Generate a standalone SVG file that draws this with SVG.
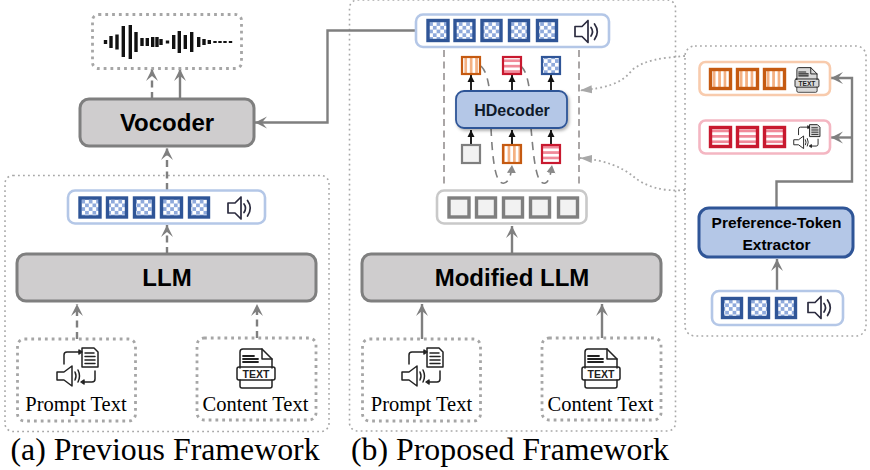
<svg xmlns="http://www.w3.org/2000/svg" xmlns:xlink="http://www.w3.org/1999/xlink" width="870" height="470" viewBox="0 0 870 470">
<style>
text{font-family:"Liberation Sans",Arial,sans-serif;text-anchor:middle;fill:#000}
.serif{font-family:"Liberation Serif","Times New Roman",serif;font-size:20.500px}
.cap{font-family:"Liberation Serif","Times New Roman",serif;font-size:31.800px}
.panel{fill:none;stroke:#a8a8a8;stroke-width:1.6;stroke-dasharray:1.8 3.2}
.dot{fill:#fff;stroke:#a6a6a6;stroke-width:2.8;stroke-dasharray:2.8 4}
.gray{fill:#cfcdce;stroke:#7f7f7f;stroke-width:3}
.blue{fill:#b4c7e7;stroke:#2f5597;stroke-width:3}
.bar{fill:#fff;stroke-width:2.6}
.tb{fill:url(#chk);stroke:#2f5597;stroke-width:3.4}
.to{fill:url(#vst);stroke:#c55a11;stroke-width:3.4}
.tr{fill:url(#hst);stroke:#c8192f;stroke-width:3.4}
.tg{fill:#f2f2f2;stroke:#7f7f7f;stroke-width:3.4}
.sm{stroke-width:2.2}
.s{fill:none;stroke:#7f7f7f;stroke-width:2.4}
.sa{marker-end:url(#ah)}
.d{stroke-dasharray:7 4.5}
.k{fill:none;stroke:#222;stroke-width:2;marker-end:url(#ak)}
.cv{fill:none;stroke:#7f7f7f;stroke-width:1.6;stroke-dasharray:8 6;marker-end:url(#am)}
.dt{fill:none;stroke:#a8a8a8;stroke-width:1.8;stroke-dasharray:1.8 3;marker-end:url(#ad)}
.ic{fill:none;stroke:#2b2b3f;stroke-width:1.7;stroke-linejoin:round;stroke-linecap:round}
.ibk{fill:none;stroke:#222;stroke-width:1.5;stroke-linejoin:round;stroke-linecap:round}
.wave line{stroke:#111;stroke-width:3.4}
</style>
<defs>
<pattern id="chk" width="7.4" height="7.4" patternUnits="userSpaceOnUse"><rect width="7.4" height="7.4" fill="#fff"/><rect width="3.7" height="3.7" fill="#8faadc"/><rect x="3.7" y="3.7" width="3.7" height="3.7" fill="#8faadc"/></pattern>
<pattern id="vst" width="5.4" height="5.4" patternUnits="userSpaceOnUse"><rect width="5.4" height="5.4" fill="#fff"/><rect width="2.7" height="5.4" fill="#f4b183"/></pattern>
<pattern id="hst" width="5.4" height="5.4" patternUnits="userSpaceOnUse"><rect width="5.4" height="5.4" fill="#fff"/><rect width="5.4" height="2.7" fill="#f08a9a"/></pattern>
<filter id="sh" x="-10%" y="-10%" width="125%" height="130%"><feDropShadow dx="1.5" dy="2" stdDeviation="1.5" flood-color="#000" flood-opacity=".3"/></filter>
<marker id="ah" markerUnits="userSpaceOnUse" markerWidth="13" markerHeight="14" refX="12" refY="7" orient="auto"><path d="M12 7L0 1L5 7L0 13Z" fill="#7f7f7f"/></marker>
<marker id="ak" markerUnits="userSpaceOnUse" markerWidth="8" markerHeight="8" refX="7" refY="4" orient="auto"><path d="M7 4L0 .5V7.500Z" fill="#111"/></marker>
<marker id="am" markerUnits="userSpaceOnUse" markerWidth="9" markerHeight="10" refX="8" refY="5" orient="auto"><path d="M8 5L0 .5V9.500Z" fill="#8a8a8a"/></marker>
<marker id="ad" markerUnits="userSpaceOnUse" markerWidth="13" markerHeight="10" refX="12" refY="5" orient="auto"><path d="M12 5L0 1V9Z" fill="#a8a8a8"/></marker>
<g id="spk" class="ic"><path d="M1 6.500H8L14 .5V22.500L8 16.500H1Z"/><path d="M17 7.500Q20 11.500 17 16"/><path d="M20.500 4Q26 11.500 20.500 19.500"/></g>
<g id="prompt" class="ibk">
<path d="M26 1H38L42 5V20H26Z"/><path d="M29 6H38M29 9.500H39M29 13H39M29 16.500H39"/>
<path d="M8 17V8Q8 5 11 5H23"/><path d="M23 3L26 5L23 7Z" fill="#222"/>
<path d="M1 25H8L16 19V39L8 33H1Z"/><path d="M19 25Q21 29 19 33M22 23Q25 29 22 35"/>
<path d="M39 24V32Q39 35 36 35H28"/><path d="M28 33L25 35L28 37Z" fill="#222"/>
</g>
<g id="content" class="ibk">
<path d="M3 20V4Q3 1 6 1H25L35 11V20"/><path d="M25 1V11H35"/>
<path d="M6 8H17M6 11H21M6 14H21" stroke-width="1.800"/>
<rect x="0" y="19" width="38" height="13" rx="2"/>
<path d="M3 32V38Q3 40 5 40H33Q35 40 35 38V32"/>
<text x="19" y="30" font-size="10.500" font-weight="700" style="fill:#222;stroke:none">TEXT</text>
</g>
</defs>
<rect width="870" height="470" fill="#fff"/>

<g id="panels">
<rect class="panel" x="5" y="175.500" width="324" height="256" rx="8"/>
<rect class="panel" x="349.500" y="0" width="326" height="431" rx="8"/>
<rect class="panel" x="685" y="46" width="181" height="290" rx="10" style="fill:#fff"/>
</g>

<g id="connectors">
<path class="s d sa" d="M152 99V69"/>
<path class="s sa" d="M180 99V69"/>
<path class="s d sa" d="M167 190V148"/>
<path class="s d sa" d="M167 254V225"/>
<path class="s d sa" d="M77 339V304"/>
<path class="s d sa" d="M257 338V304"/>
<path class="s sa" d="M416 30.500H327.500V122.500H255"/>
<path class="s sa" d="M512 254V226"/>
<path class="s sa" d="M422 339V304"/>
<path class="s sa" d="M602 338V304"/>
<path class="s sa" d="M776.500 208V181.500H852V78H831"/>
<path class="s sa" d="M852 137.500H831"/>
<path class="s sa" d="M777 291V259"/>
<path d="M444 50V188M579 50V188" fill="none" stroke="#aaa6a6" stroke-width="2" stroke-dasharray="7 4.500"/>
<path class="dt" d="M685 56C660 58 645 60 632 70C622 84 605 88 580 90.500"/>
<path class="dt" d="M685 190C662 192 645 186 634 177C622 167 605 160 580 158"/>
<path class="k" d="M471 91V75"/><path class="k" d="M512 91V75"/><path class="k" d="M551 91V75"/>
<path class="k" d="M471 145V130"/><path class="k" d="M512 145V130"/><path class="k" d="M551 145V130"/>
<path class="cv" d="M481 66C487 72 488 82 490 92M491 128C492 150 494 176 500 182C506 186 511 180 512 165"/>
<path class="cv" d="M521 66C527 72 528 82 530 92M531 128C533 150 535 176 541 182C547 186 550 180 552 165"/>
</g>

<g id="waveform">
<rect class="dot" x="92.500" y="14.500" width="149" height="54" rx="6"/>
<g class="wave">
<line x1="105.500" y1="40" x2="105.500" y2="44"/><line x1="111" y1="36" x2="111" y2="48"/><line x1="117" y1="34.500" x2="117" y2="49.500"/><line x1="123.300" y1="26" x2="123.300" y2="57"/><line x1="130.300" y1="25" x2="130.300" y2="59"/><line x1="136" y1="32" x2="136" y2="52"/><line x1="142" y1="38" x2="142" y2="46"/><line x1="147.300" y1="38" x2="147.300" y2="46"/><line x1="152.700" y1="37" x2="152.700" y2="47"/><line x1="157" y1="37" x2="157" y2="47"/><line x1="161" y1="39" x2="161" y2="45"/><line x1="167.500" y1="40.500" x2="167.500" y2="43.500"/><line x1="173.700" y1="35" x2="173.700" y2="49"/><line x1="179.300" y1="31" x2="179.300" y2="53"/><line x1="185.300" y1="35" x2="185.300" y2="49"/><line x1="191.700" y1="32" x2="191.700" y2="52"/><line x1="198.700" y1="37" x2="198.700" y2="47"/><line x1="204" y1="39" x2="204" y2="45"/><line x1="209.300" y1="40" x2="209.300" y2="44"/><line x1="215" y1="41" x2="215" y2="43"/><line x1="220" y1="41" x2="220" y2="43"/><line x1="225" y1="41" x2="225" y2="43"/><line x1="230.500" y1="41" x2="230.500" y2="43"/></g>
</g>

<g id="vocoder"><rect class="gray" x="80" y="99" width="174" height="47" rx="9"/><text x="167" y="131" font-size="24" font-weight="700">Vocoder</text></g>

<g id="tokens-a">
<rect class="bar" x="68" y="190.500" width="197" height="33" rx="7" stroke="#b4c7e7"/>
<rect class="tb" x="80" y="198" width="20" height="19"/><rect class="tb" x="107.500" y="198" width="19" height="19"/><rect class="tb" x="134.500" y="198" width="19" height="19"/><rect class="tb" x="161.500" y="198" width="20" height="19"/><rect class="tb" x="189.500" y="198" width="19" height="19"/>
<use href="#spk" x="227" y="196.500"/>
</g>
<g id="llm"><rect class="gray" x="17" y="254" width="299" height="47" rx="9"/><text x="167" y="286" font-size="24" font-weight="700">LLM</text></g>
<g id="prompt-a"><rect class="dot" x="17.500" y="339" width="118" height="82" rx="7"/><use href="#prompt" x="56" y="347"/><text class="serif" x="76" y="411">Prompt Text</text></g>
<g id="content-a"><rect class="dot" x="197" y="338" width="119" height="82" rx="7"/><use href="#content" x="237" y="348"/><text class="serif" x="255.500" y="411">Content Text</text></g>
<text class="cap" x="165" y="460">(a) Previous Framework</text>

<g id="tokens-b">
<rect class="bar" x="416" y="14.500" width="193" height="32.500" rx="7" stroke="#b4c7e7"/>
<rect class="tb" x="428" y="20.500" width="20" height="20"/><rect class="tb" x="455" y="20.500" width="19" height="20"/><rect class="tb" x="482" y="20.500" width="19" height="20"/><rect class="tb" x="509.500" y="20.500" width="19" height="20"/><rect class="tb" x="537.500" y="20.500" width="19" height="20"/>
<use href="#spk" x="574" y="20"/>
</g>
<g id="output-tokens">
<rect class="to sm" x="462" y="57" width="18" height="17"/><rect class="tr sm" x="503" y="57" width="18" height="17"/><rect class="tb sm" x="542" y="57" width="18" height="17"/>
</g>
<g id="hdecoder"><rect x="456" y="91" width="111" height="37" rx="8" fill="#b4c7e7" stroke="#2f5597" stroke-width="1.800" filter="url(#sh)"/><text x="512" y="116" font-size="16" font-weight="700" style="fill:#0e1a2b">HDecoder</text></g>
<g id="input-tokens">
<rect class="tg sm" x="462" y="145" width="18" height="18"/><rect class="to sm" x="503" y="145" width="18" height="18"/><rect class="tr sm" x="542" y="145" width="18" height="18"/>
</g>
<g id="latent">
<rect class="bar" x="437" y="190.500" width="149.500" height="33" rx="7" stroke="#c9c9c9"/>
<rect class="tg" x="449" y="198" width="20" height="19"/><rect class="tg" x="476.500" y="198" width="19" height="19"/><rect class="tg" x="503.500" y="198" width="19" height="19"/><rect class="tg" x="530.500" y="198" width="19" height="19"/><rect class="tg" x="558.500" y="198" width="19" height="19"/>
</g>
<g id="modified-llm"><rect class="gray" x="362" y="254" width="299" height="47" rx="9"/><text x="512" y="286" font-size="24" font-weight="700">Modified LLM</text></g>
<g id="prompt-b"><rect class="dot" x="362.500" y="339" width="118" height="82" rx="7"/><use href="#prompt" x="401" y="347"/><text class="serif" x="421.500" y="411">Prompt Text</text></g>
<g id="content-b"><rect class="dot" x="542" y="338" width="119" height="82" rx="7"/><use href="#content" x="582" y="348"/><text class="serif" x="600.500" y="411">Content Text</text></g>
<text class="cap" x="510" y="460">(b) Proposed Framework</text>

<g id="orange-prefs">
<rect class="bar" x="699.500" y="62" width="130.500" height="33" rx="6" stroke="#f8cbad"/>
<rect class="to" x="710.500" y="69.500" width="20" height="19"/><rect class="to" x="737.500" y="69.500" width="20" height="19"/><rect class="to" x="764.500" y="69.500" width="20" height="19"/>
<path d="M797 78V67H811L817 73V78H819V87H816V91H798V87H795V78Z" fill="#d9d9d9"/>
<use href="#content" transform="translate(795 67) scale(.63)"/>
</g>
<g id="red-prefs">
<rect class="bar" x="699.500" y="120.500" width="130.500" height="33" rx="6" stroke="#f4b6c2"/>
<rect class="tr" x="710.500" y="127.500" width="20" height="19"/><rect class="tr" x="737.500" y="127.500" width="20" height="19"/><rect class="tr" x="764.500" y="127.500" width="20" height="19"/>
<path d="M810 125H818L820 128V137H810Z" fill="#d9d9d9"/>
<use href="#prompt" transform="translate(793.500 124) scale(.63)"/>
</g>
<g id="extractor"><rect class="blue" x="699" y="208" width="154" height="49" rx="10"/><text x="776.500" y="228" font-size="15.500" font-weight="700">Preference-Token</text><text x="776.500" y="250" font-size="15.500" font-weight="700">Extractor</text></g>
<g id="ref-tokens">
<rect class="bar" x="712" y="291" width="131" height="34" rx="7" stroke="#b4c7e7"/>
<rect class="tb" x="722.500" y="298.500" width="19" height="19"/><rect class="tb" x="749.500" y="298.500" width="19" height="19"/><rect class="tb" x="776.500" y="298.500" width="19" height="19"/>
<use href="#spk" x="807" y="296"/>
</g>
</svg>
